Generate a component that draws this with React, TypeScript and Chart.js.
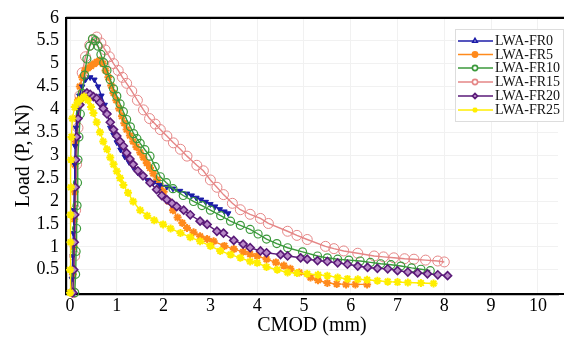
import React, { useEffect, useRef } from "react";
import { Chart, registerables } from "chart.js";
import { drawPoint } from "chart.js/helpers";

Chart.register(...registerables);

const seriesLabels = ["LWA-FR0", "LWA-FR5", "LWA-FR10", "LWA-FR15", "LWA-FR20", "LWA-FR25"];

const xTickValues = [0, 1, 2, 3, 4, 5, 6, 7, 8, 9, 10];
const yTickValues = [0.5, 1, 1.5, 2, 2.5, 3, 3.5, 4, 4.5, 5, 5.5, 6];

const fr0X = [0, 0.04, 0.06, 0.07, 0.08, 0.09, 0.1, 0.11, 0.13, 0.16, 0.2, 0.26, 0.33, 0.43, 0.52, 0.6, 0.67, 0.74, 0.8, 0.86, 0.93, 1.0, 1.08, 1.17, 1.26, 1.35, 1.45, 1.55, 1.65, 1.78, 1.92, 2.07, 2.2, 2.35, 2.5, 2.6, 2.7, 2.8, 2.9, 3.0, 3.1, 3.2, 3.3, 3.38];
const fr0Y = [0, 0.3, 0.8, 1.3, 1.8, 2.3, 2.8, 3.2, 3.6, 4.0, 4.3, 4.5, 4.65, 4.7, 4.65, 4.5, 4.3, 4.1, 3.9, 3.6, 3.45, 3.28, 3.12, 2.97, 2.85, 2.74, 2.62, 2.53, 2.46, 2.4, 2.35, 2.31, 2.27, 2.22, 2.16, 2.12, 2.07, 2.03, 1.98, 1.93, 1.88, 1.82, 1.77, 1.73];

const fr5X = [0.02, 0.06, 0.08, 0.09, 0.1, 0.11, 0.12, 0.14, 0.17, 0.21, 0.26, 0.32, 0.38, 0.45, 0.52, 0.58, 0.64, 0.7, 0.76, 0.82, 0.88, 0.93, 0.99, 1.05, 1.11, 1.16, 1.21, 1.28, 1.35, 1.42, 1.5, 1.57, 1.64, 1.71, 1.78, 1.86, 1.93, 2.0, 2.1, 2.2, 2.3, 2.4, 2.5, 2.64, 2.78, 2.93, 3.07, 3.3, 3.5, 3.7, 3.85, 4.0, 4.2, 4.4, 4.57, 4.71, 4.9, 5.14, 5.3, 5.5, 5.7, 5.9, 6.1, 6.35];
const fr5Y = [0, 0.4, 1.0, 1.6, 2.2, 2.8, 3.3, 3.8, 4.2, 4.5, 4.7, 4.85, 4.9, 4.95, 5.0, 5.04, 5.07, 5.0, 4.85, 4.7, 4.52, 4.36, 4.2, 4.02, 3.85, 3.7, 3.56, 3.43, 3.3, 3.18, 3.06, 2.95, 2.83, 2.72, 2.6, 2.47, 2.33, 2.2, 2.0, 1.8, 1.64, 1.52, 1.41, 1.32, 1.23, 1.17, 1.12, 1.02, 0.95, 0.89, 0.84, 0.8, 0.73, 0.66, 0.59, 0.52, 0.44, 0.33, 0.27, 0.21, 0.19, 0.18, 0.18, 0.18];

const fr10X = [0.1, 0.12, 0.13, 0.14, 0.15, 0.16, 0.17, 0.19, 0.22, 0.26, 0.31, 0.36, 0.42, 0.48, 0.54, 0.6, 0.66, 0.72, 0.79, 0.86, 0.93, 1.0, 1.07, 1.14, 1.21, 1.29, 1.36, 1.43, 1.5, 1.6, 1.71, 1.82, 1.93, 2.06, 2.2, 2.42, 2.64, 2.82, 3.0, 3.22, 3.43, 3.64, 3.85, 4.02, 4.2, 4.42, 4.65, 4.97, 5.29, 5.5, 5.72, 5.96, 6.2, 6.42, 6.64, 6.86, 7.07, 7.3, 7.5, 7.7];
const fr10Y = [0, 0.4, 0.9, 1.4, 1.9, 2.4, 2.9, 3.4, 3.9, 4.35, 4.75, 5.1, 5.38, 5.54, 5.5, 5.38, 5.2, 5.02, 4.85, 4.65, 4.45, 4.29, 4.12, 3.95, 3.78, 3.62, 3.47, 3.36, 3.26, 3.12, 2.98, 2.75, 2.53, 2.4, 2.27, 2.12, 1.99, 1.9, 1.8, 1.68, 1.56, 1.47, 1.38, 1.28, 1.17, 1.07, 0.98, 0.89, 0.8, 0.76, 0.73, 0.71, 0.69, 0.66, 0.63, 0.61, 0.58, 0.54, 0.51, 0.48];

const fr15X = [0.08, 0.1, 0.12, 0.14, 0.17, 0.21, 0.26, 0.33, 0.42, 0.5, 0.57, 0.66, 0.75, 0.84, 0.93, 1.03, 1.12, 1.21, 1.32, 1.44, 1.57, 1.7, 1.82, 1.93, 2.07, 2.21, 2.36, 2.5, 2.71, 2.85, 3.0, 3.14, 3.28, 3.47, 3.64, 3.85, 4.07, 4.24, 4.65, 4.85, 5.07, 5.46, 5.64, 5.85, 6.15, 6.5, 6.7, 6.92, 7.15, 7.35, 7.6, 7.86, 8.0];
const fr15Y = [0, 0.8, 1.8, 2.8, 3.6, 4.3, 4.8, 5.15, 5.4, 5.52, 5.58, 5.45, 5.3, 5.15, 5.0, 4.85, 4.7, 4.57, 4.4, 4.2, 3.99, 3.8, 3.68, 3.56, 3.42, 3.27, 3.13, 2.98, 2.78, 2.66, 2.46, 2.3, 2.14, 1.95, 1.81, 1.71, 1.62, 1.51, 1.34, 1.25, 1.16, 1.01, 0.96, 0.91, 0.86, 0.8, 0.78, 0.76, 0.74, 0.73, 0.71, 0.69, 0.67];

const fr20X = [0.06, 0.08, 0.09, 0.1, 0.11, 0.12, 0.14, 0.17, 0.21, 0.26, 0.31, 0.36, 0.43, 0.5, 0.57, 0.64, 0.71, 0.79, 0.86, 0.93, 1.0, 1.07, 1.14, 1.21, 1.28, 1.35, 1.45, 1.56, 1.71, 1.85, 1.96, 2.07, 2.18, 2.28, 2.43, 2.57, 2.78, 2.93, 3.14, 3.28, 3.5, 3.7, 3.85, 4.07, 4.2, 4.5, 4.65, 4.93, 5.07, 5.29, 5.5, 5.72, 5.93, 6.15, 6.36, 6.57, 6.79, 7.0, 7.22, 7.43, 7.64, 7.86, 8.07];
const fr20Y = [0, 0.5, 1.1, 1.7, 2.3, 2.9, 3.4, 3.8, 4.1, 4.25, 4.32, 4.36, 4.33, 4.28, 4.24, 4.15, 4.02, 3.9, 3.72, 3.56, 3.42, 3.3, 3.2, 3.05, 2.92, 2.8, 2.66, 2.55, 2.4, 2.25, 2.12, 2.03, 1.95, 1.88, 1.8, 1.7, 1.56, 1.49, 1.34, 1.3, 1.14, 1.06, 0.98, 0.91, 0.87, 0.83, 0.8, 0.76, 0.73, 0.7, 0.68, 0.65, 0.62, 0.58, 0.55, 0.53, 0.52, 0.48, 0.45, 0.43, 0.41, 0.39, 0.37];

const fr25X = [0, 0.0, 0.01, 0.01, 0.02, 0.02, 0.03, 0.05, 0.1, 0.16, 0.23, 0.3, 0.38, 0.45, 0.5, 0.57, 0.64, 0.71, 0.79, 0.86, 0.93, 1.0, 1.07, 1.14, 1.24, 1.35, 1.5, 1.65, 1.8, 1.99, 2.15, 2.36, 2.57, 2.78, 3.0, 3.21, 3.43, 3.64, 3.85, 4.0, 4.2, 4.43, 4.65, 4.85, 5.07, 5.3, 5.5, 5.72, 5.93, 6.15, 6.35, 6.57, 6.79, 7.0, 7.22, 7.5, 7.77];
const fr25Y = [0, 0.5, 1.1, 1.7, 2.3, 2.9, 3.4, 3.8, 4.05, 4.15, 4.22, 4.28, 4.2, 4.05, 3.92, 3.72, 3.5, 3.3, 3.13, 2.95, 2.8, 2.65, 2.5, 2.35, 2.18, 1.99, 1.8, 1.68, 1.58, 1.49, 1.4, 1.3, 1.21, 1.12, 1.02, 0.91, 0.83, 0.76, 0.68, 0.65, 0.56, 0.5, 0.44, 0.43, 0.41, 0.39, 0.37, 0.33, 0.3, 0.29, 0.28, 0.26, 0.24, 0.23, 0.22, 0.21, 0.2];

const seriesX = [fr0X, fr5X, fr10X, fr15X, fr20X, fr25X];
const seriesY = [fr0Y, fr5Y, fr10Y, fr15Y, fr20Y, fr25Y];

const styles = [
  { color: "#1c1ca8", pointStyle: "triangle", rotation: 180, radius: 3.2, bg: "#1c1ca8", bw: 1, legendBg: "#ffffff", legendRot: 0 },
  { color: "#ff8a1c", pointStyle: "star", rotation: 0, radius: 4, bg: "#ff8a1c", bw: 2, legendBg: "#ff8a1c", legendStyle: "circle" },
  { color: "#3b993b", pointStyle: "circle", rotation: 0, radius: 4, bg: "rgba(255,255,255,0)", bw: 1.2, legendBg: "#ffffff" },
  { color: "#e58686", pointStyle: "circle", rotation: 0, radius: 5, bg: "rgba(255,255,255,0)", bw: 1, legendBg: "#ffffff" },
  { color: "#5a1a78", pointStyle: "rectRot", rotation: 0, radius: 4, bg: "#b98ac8", bw: 1.6, legendBg: "#b98ac8" },
  { color: "#ffee00", pointStyle: "star", rotation: 0, radius: 4, bg: "#ffee00", bw: 2, legendBg: "#ffee00" },
];

const serif = "'Liberation Serif', 'Times New Roman', serif";

const frameAndLegend = {
  id: "frameAndLegend",
  afterDraw(chart: any) {
    const { ctx, chartArea } = chart;
    const W = chart.width;
    ctx.save();
    ctx.strokeStyle = "#000";
    ctx.lineWidth = 2.2;
    ctx.beginPath();
    ctx.moveTo(chartArea.left, chartArea.top);
    ctx.lineTo(W, chartArea.top);
    ctx.moveTo(chartArea.right - 1, chartArea.bottom);
    ctx.lineTo(W, chartArea.bottom);
    ctx.stroke();

    // legend box
    const bx = 455, by = 29, bw = 108, bh = 92;
    ctx.fillStyle = "#ffffff";
    ctx.fillRect(bx, by, bw, bh);
    ctx.strokeStyle = "#dddddd";
    ctx.lineWidth = 1;
    ctx.strokeRect(bx + 0.5, by + 0.5, bw, bh);
    const rows = [41, 54.5, 68, 82, 96, 110];
    ctx.font = "14px " + serif;
    ctx.textBaseline = "middle";
    chart.data.datasets.forEach((ds: any, i: number) => {
      const st = styles[i];
      const y = rows[i];
      ctx.strokeStyle = st.color;
      ctx.lineWidth = 1.6;
      ctx.beginPath();
      ctx.moveTo(458, y);
      ctx.lineTo(493, y);
      ctx.stroke();
      ctx.fillStyle = st.legendBg;
      drawPoint(ctx, {
        pointStyle: (st as any).legendStyle || st.pointStyle,
        rotation: (st as any).legendRot ?? st.rotation,
        radius: 2.6,
        borderWidth: 1.2,
      } as any, 475, y);
      ctx.fillStyle = "#111";
      ctx.fillText(ds.label, 495, y + 0.5);
    });
    ctx.restore();
  },
};

export default function App() {
  const ref = useRef<HTMLCanvasElement | null>(null);
  useEffect(() => {
    document.body.style.margin = "0";
    const canvas = ref.current!;
    const datasets = seriesLabels.map((label, i) => {
      const st = styles[i];
      return {
        label,
        data: seriesX[i].map((x, j) => ({ x, y: seriesY[i][j] })),
        borderColor: st.color,
        backgroundColor: st.bg,
        pointBackgroundColor: st.bg,
        pointBorderColor: st.color,
        pointStyle: st.pointStyle,
        pointRotation: st.rotation,
        pointRadius: st.radius,
        pointBorderWidth: st.bw,
        borderWidth: 1.4,
        showLine: true,
        fill: false,
        tension: 0,
        clip: false,
        order: [3, 4, 2, 5, 1, 0][i],
      };
    });
    const chart = new Chart(canvas, {
      type: "scatter",
      data: { datasets } as any,
      options: {
        responsive: false,
        animation: false,
        layout: { padding: { top: 14, right: 0, left: 0, bottom: 0 } },
        plugins: { legend: { display: false }, tooltip: { enabled: false } },
        scales: {
          x: {
            type: "linear",
            min: -0.086,
            max: 10.43,
            afterFit: (s: any) => { s.height = 46; },
            afterBuildTicks: (s: any) => { s.ticks = xTickValues.map((v) => ({ value: v })); },
            ticks: {
              callback: (v: any) => String(v),
              font: { family: serif, size: 18 },
              color: "#000",
              padding: 1,
              maxRotation: 0,
              autoSkip: false,
            },
            grid: { color: "#f1f1f1", lineWidth: 1, drawTicks: false },
            border: { color: "#000", width: 2.2 },
            title: {
              display: true,
              text: "CMOD (mm)",
              font: { family: serif, size: 20 },
              color: "#000",
              padding: { top: 0, bottom: 2 },
            },
          },
          y: {
            type: "linear",
            min: -0.03,
            max: 6,
            afterFit: (s: any) => { s.width = 66; },
            afterBuildTicks: (s: any) => { s.ticks = yTickValues.map((v) => ({ value: v })); },
            ticks: {
              callback: (v: any) => String(v),
              font: { family: serif, size: 18 },
              color: "#000",
              padding: 7,
              autoSkip: false,
            },
            grid: { color: "#f1f1f1", lineWidth: 1, drawTicks: false },
            border: { color: "#000", width: 2.2 },
            title: {
              display: true,
              text: "Load (P, kN)",
              font: { family: serif, size: 20 },
              color: "#000",
              padding: { top: 12, bottom: 0 },
            },
          },
        },
      },
      plugins: [frameAndLegend],
    } as any);
    return () => chart.destroy();
  }, []);
  return (
    <div style={{ position: "fixed", left: 0, top: 0, width: 564, height: 340, background: "#fff" }}>
      <canvas ref={ref} width={564} height={340} />
    </div>
  );
}
